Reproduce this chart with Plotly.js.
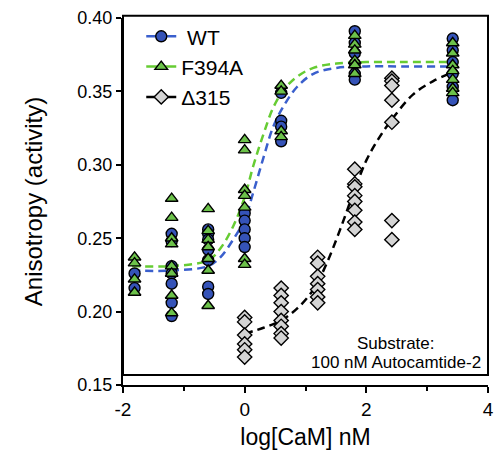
<!DOCTYPE html>
<html>
<head>
<meta charset="utf-8">
<script src="https://cdn.plot.ly/plotly-3.0.1.min.js"></script>
<style>html,body{margin:0;padding:0;background:#fff;}#chart{width:495px;height:451px;}</style>
</head>
<body>
<div id="chart"></div>
<script>
// Concentrations (log nM)
const concWT = [-1.81, -1.2, -0.6, 0, 0.6, 1.81, 3.42];
const concD315 = [0, 0.6, 1.2, 1.81, 2.42];

// Replicate anisotropy values, one sub-array per concentration
const wtValues = [
  [0.226, 0.216],
  [0.253, 0.248, 0.231, 0.226, 0.219, 0.206, 0.197],
  [0.256, 0.253, 0.249, 0.242, 0.235, 0.217, 0.212],
  [0.267, 0.262, 0.256, 0.250, 0.244],
  [0.349, 0.330, 0.326, 0.316],
  [0.391, 0.383, 0.376, 0.369, 0.362, 0.358],
  [0.386, 0.378, 0.370, 0.362, 0.353, 0.344]
];
const f394aValues = [
  [0.237, 0.233, 0.222, 0.213],
  [0.277, 0.264, 0.250, 0.246, 0.231, 0.226, 0.211, 0.199],
  [0.270, 0.255, 0.249, 0.244, 0.236, 0.228, 0.204],
  [0.317, 0.310, 0.283, 0.279, 0.271, 0.236, 0.232],
  [0.354, 0.350, 0.323, 0.319],
  [0.388, 0.382, 0.378, 0.371, 0.368, 0.362],
  [0.383, 0.376, 0.368, 0.364, 0.358, 0.352, 0.349]
];
const d315Values = [
  [0.196, 0.193, 0.184, 0.178, 0.174, 0.169],
  [0.216, 0.211, 0.206, 0.200, 0.194, 0.190, 0.185, 0.182],
  [0.237, 0.233, 0.224, 0.219, 0.215, 0.210, 0.206],
  [0.297, 0.287, 0.285, 0.279, 0.275, 0.269, 0.261, 0.256],
  [0.359, 0.357, 0.354, 0.344, 0.329, 0.262, 0.249]
];

// Fitted curves
const fitWTx = [-1.85, -1.2, -0.6, -0.4, -0.19, 0, 0.14, 0.31, 0.47, 0.64, 0.86, 1.13, 1.51, 2.0, 2.6, 3.42];
const fitWTy = [0.228, 0.228, 0.231, 0.237, 0.249, 0.263, 0.281, 0.305, 0.326, 0.340, 0.353, 0.362, 0.366, 0.367, 0.367, 0.367];
const fitF394Ax = [-1.85, -1.2, -0.6, -0.4, -0.19, 0, 0.14, 0.31, 0.47, 0.64, 0.86, 1.13, 1.51, 2.0, 2.6, 3.42];
const fitF394Ay = [0.231, 0.231, 0.235, 0.243, 0.258, 0.278, 0.299, 0.321, 0.339, 0.351, 0.360, 0.366, 0.369, 0.370, 0.370, 0.370];
const fitD315x = [0, 0.31, 0.6, 0.86, 1.13, 1.35, 1.57, 1.79, 2.0, 2.22, 2.44, 2.77, 3.1, 3.42];
const fitD315y = [0.185, 0.189, 0.194, 0.202, 0.215, 0.233, 0.256, 0.281, 0.303, 0.319, 0.332, 0.348, 0.357, 0.363];

const seriesNames = [' WT', 'F394A', '\u0394315'];
const xTickVals = [-2, 0, 2, 4];
const yTickVals = [0.15, 0.20, 0.25, 0.30, 0.35, 0.40];

function flatten(conc, vals) {
  const xs = [], ys = [];
  conc.forEach((c, i) => vals[i].forEach(v => { xs.push(c); ys.push(v); }));
  return {x: xs, y: ys};
}

const BLUE = '#3553b8', BLUE_L = '#3a5fcd';
const GREEN = '#6cc24a', GREEN_L = '#66cc33';
const GRAY = '#d4d4d4';
const dash = '8px,5px';

const wt = flatten(concWT, wtValues);
const f3 = flatten(concWT, f394aValues);
const d3 = flatten(concD315, d315Values);

const mline = {color: '#000', width: 1.4};

const traces = [
  {x: fitWTx, y: fitWTy, mode: 'lines', line: {color: BLUE_L, width: 2.5, dash: dash, shape: 'spline'}, showlegend: false, hoverinfo: 'skip'},
  {x: fitF394Ax, y: fitF394Ay, mode: 'lines', line: {color: GREEN_L, width: 2.5, dash: dash, shape: 'spline'}, showlegend: false, hoverinfo: 'skip'},
  {x: fitD315x, y: fitD315y, mode: 'lines', line: {color: '#000', width: 2.5, dash: dash, shape: 'spline'}, showlegend: false, hoverinfo: 'skip'},
  {x: wt.x, y: wt.y, mode: 'markers', marker: {symbol: 'circle', size: 11, color: BLUE, line: mline}, showlegend: false},
  {x: f3.x, y: f3.y, mode: 'markers', marker: {symbol: 'triangle-up', size: 11, color: GREEN, line: mline}, showlegend: false},
  {x: d3.x, y: d3.y, mode: 'markers', marker: {symbol: 'diamond', size: 11, color: GRAY, line: mline}, showlegend: false},
  // legend entries
  {x: [null], y: [null], name: seriesNames[0], mode: 'lines+markers', line: {color: BLUE_L, width: 2.5}, marker: {symbol: 'circle', size: 11, color: BLUE, line: mline}},
  {x: [null], y: [null], name: seriesNames[1], mode: 'lines+markers', line: {color: GREEN_L, width: 2.5}, marker: {symbol: 'triangle-up', size: 11, color: GREEN, line: mline}},
  {x: [null], y: [null], name: seriesNames[2], mode: 'lines+markers', line: {color: '#000', width: 2.5}, marker: {symbol: 'diamond', size: 11, color: GRAY, line: mline}}
];

const FONT = 'Arial, "Liberation Sans", Helvetica, sans-serif';

const layout = {
  width: 495, height: 451,
  margin: {l: 123, r: 7, t: 18, b: 66},
  paper_bgcolor: '#fff', plot_bgcolor: '#fff',
  font: {family: FONT, color: '#000'},
  showlegend: true,
  legend: {x: 0.05, y: 1.005, xanchor: 'left', yanchor: 'top', font: {size: 21, family: FONT}, bgcolor: 'rgba(0,0,0,0)', tracegroupgap: 0},
  xaxis: {
    range: [-2, 4], tickvals: xTickVals, ticktext: xTickVals.map(String),
    showgrid: false, zeroline: false, showline: true, linecolor: '#000', linewidth: 2,
    ticks: 'outside', ticklen: 6, tickwidth: 2, tickcolor: '#000',
    minor: {tickvals: [-1, 1, 3], ticks: 'outside', ticklen: 4, tickwidth: 2, tickcolor: '#000', showgrid: false},
    tickfont: {size: 19, family: FONT},
    title: {text: 'log[CaM] nM', font: {size: 23, family: FONT}, standoff: 10}
  },
  yaxis: {
    range: [0.15, 0.40], tickvals: yTickVals, ticktext: yTickVals.map(v => v.toFixed(2)),
    showgrid: false, zeroline: false, showline: true, linecolor: '#000', linewidth: 2,
    ticks: 'outside', ticklen: 5, tickwidth: 2, tickcolor: '#000',
    tickfont: {size: 18, family: FONT},
    title: {text: 'Anisotropy (activity)', font: {size: 24, family: FONT}, standoff: 28}
  },
  shapes: [
    {type: 'rect', xref: 'paper', yref: 'paper', x0: 0, x1: 1, y0: 0.027, y1: 1.006, line: {color: '#000', width: 2}, fillcolor: 'rgba(0,0,0,0)', layer: 'below'}
  ],
  annotations: [
    {xref: 'paper', yref: 'paper', x: 0.748, y: 0.1144, text: 'Substrate:', showarrow: false, xanchor: 'center', yanchor: 'middle', font: {size: 17, family: FONT}},
    {xref: 'paper', yref: 'paper', x: 0.748, y: 0.06, text: '100 nM Autocamtide-2', showarrow: false, xanchor: 'center', yanchor: 'middle', font: {size: 17, family: FONT}}
  ]
};

Plotly.newPlot('chart', traces, layout, {displayModeBar: false, staticPlot: true});
</script>
</body>
</html>
